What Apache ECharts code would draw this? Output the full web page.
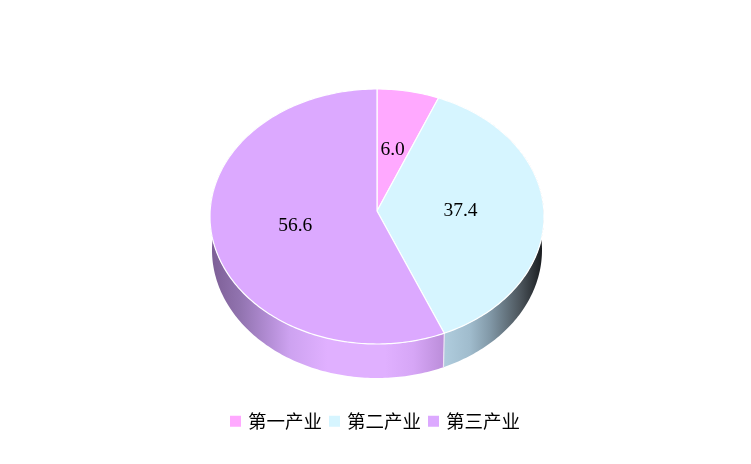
<!DOCTYPE html>
<html><head><meta charset="utf-8">
<style>html,body{margin:0;padding:0;background:#fff}#c{width:751px;height:464px}</style>
<script src="https://cdn.jsdelivr.net/npm/echarts@6/dist/echarts.min.js"></script>
</head><body><div id="c"></div>
<script>
const categories = ['第一产业','第二产业','第三产业'];
const values = [6.0,37.4,56.6];
const labels = ['6.0','37.4','56.6'];
const colors = ['#FFA9FF','#D6F5FF','#DCA9FF'];
const wallStops = [
  [],
  [[0,'#aecbdc'],[0.25,'#a0bccd'],[0.46,'#8299a8'],[0.78,'#4c555c'],[1,'#1c1f22']],
  [[0,'#7d5f96'],[0.1,'#9274b0'],[0.2,'#b48ed6'],[0.27,'#cda2f0'],[0.4,'#e0b0ff'],[0.6,'#e0b0ff'],[0.7,'#d6a6f6'],[0.82,'#b88ad6'],[1,'#9070a8']]
];
const wallRange = [[377,544],[446,541],[212,500]];
const apex = [377,211], topE = {cx:377,cy:216.5,rx:167,ry:127.5}, botE = {cx:377,cy:250,rx:165,ry:128};
const total = values.reduce((a,b)=>a+b,0);
function pt(e,deg){const r=deg*Math.PI/180;return [e.cx+e.rx*Math.sin(r),e.cy-e.ry*Math.cos(r)];}
function arc(e,a,b){const n=Math.max(2,Math.ceil(Math.abs(b-a)));const p=[];for(let i=0;i<=n;i++)p.push(pt(e,a+(b-a)*i/n));return p;}
function render(i){
  return function(params,api){
    const v=api.value(0);
    let before=0;for(let k=0;k<i;k++)before+=values[k];
    const a=before/total*360,b=(before+v)/total*360,m=(a+b)/2;
    const kids=[];
    if(wallStops[i].length){
      const r=wallRange[i];
      const stops=wallStops[i].map(s=>({offset:s[0],color:s[1]}));
      kids.push({type:'polygon',z2:1,shape:{points:arc(topE,a,b).concat(arc(botE,a,b).reverse())},
        style:{fill:new echarts.graphic.LinearGradient(r[0],0,r[1],0,stops,true)}});
    }
    if(i===2){
      const p1=pt(topE,a),p2=pt(botE,a);
      kids.push({type:'line',z2:1.5,shape:{x1:p1[0],y1:p1[1],x2:p2[0],y2:p2[1]},style:{stroke:'#ece4f4',lineWidth:1.2}});
    }
    kids.push({type:'polygon',z2:2,shape:{points:[apex].concat(arc(topE,a,b))},
      style:{fill:colors[i],stroke:'#fff',lineWidth:1.2,lineJoin:'round'}});
    const r=m*Math.PI/180;
    kids.push({type:'text',z2:3,style:{text:labels[i],
      x:apex[0]+topE.rx*0.5*Math.sin(r),y:apex[1]-topE.ry*0.5*Math.cos(r)+1.5,
      align:'center',verticalAlign:'middle',fill:'#000',font:'19.5px "Liberation Serif"'}});
    return {type:'group',children:kids};
  };
}
const chart=echarts.init(document.getElementById('c'),null,{renderer:'canvas'});
chart.setOption({
  animation:false,backgroundColor:'#fff',
  legend:{data:categories,left:225,top:407,itemWidth:11,itemHeight:11,itemGap:7,icon:'rect',selectedMode:false,
    textStyle:{color:'#000',fontSize:18.5,fontFamily:'"Noto Sans CJK SC"',padding:[0,0,0,2]}},
  series:categories.map((n,i)=>({name:n,type:'custom',coordinateSystem:'none',silent:true,
    itemStyle:{color:colors[i]},data:[[values[i]]],renderItem:render(i),clip:false}))
});
</script></body></html>
